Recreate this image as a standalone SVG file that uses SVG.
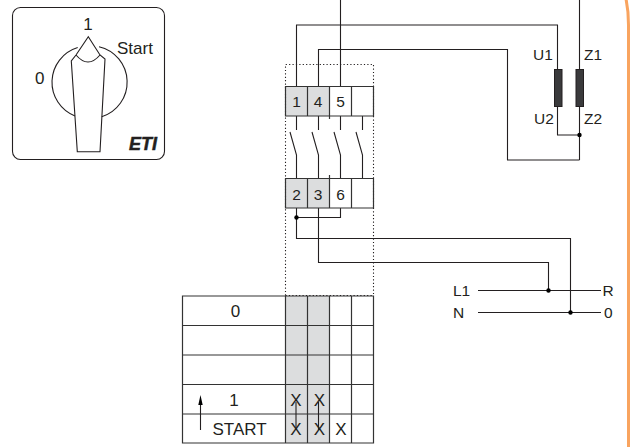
<svg xmlns="http://www.w3.org/2000/svg" width="631" height="447" viewBox="0 0 631 447">
<style>
text{font-family:"Liberation Sans",Arial,sans-serif;fill:#231f20;font-size:15.500px}
.m{text-anchor:middle}
.l{font-size:17px}
.w,.s{fill:none;stroke:#231f20;stroke-width:1.100}
.t{fill:none;stroke:#333;stroke-width:1.200}
.d{fill:none;stroke:#231f20;stroke-width:1.100;stroke-dasharray:1.200 2.200}
.b{fill:#dcddde}
.dot{fill:#000}
</style>
<rect width="631" height="447" fill="#fff"/>
<path d="M626 -1C627.500 6 628.500 14 628.500 25V447" fill="none" stroke="#f9a45f" stroke-width="3"/>
<g id="selector">
<rect x="12.500" y="7.500" width="152" height="152" rx="8" fill="#fff" stroke="#231f20" stroke-width="1.100"/>
<path class="s" d="M75 116A36.300 36.300 0 0 1 77.700 47.500M99 46.700A36.300 36.300 0 0 1 101.700 116.700"/>
<path class="s" d="M77.300 151.700L71.300 61L76 55L88.300 36.700L100 55L105 59L100 151.700Z"/>
<path class="s" d="M76 55Q88 69 100 55"/>
<text class="m l" x="88" y="30">1</text>
<text class="l" x="117" y="54">Start</text>
<text class="l" x="35" y="84">0</text>
<text x="129" y="150" style="font-size:18px;font-weight:bold;font-style:italic;stroke:#231f20;stroke-width:.5">ETI</text>
</g>
<g id="connectors">
<path class="w" d="M296.500 86V25H557.500V69M318.500 86V49.500H507.500V160H579.500M340.500 0V86M579.500 0V69M557.500 107V135H579.500M579.500 107V160"/>
<path class="w" d="M296.500 116V130M318.500 116V130M340.500 116V130M362.500 116V130"/>
<path class="w" d="M290 132L296.500 155V178M312 132L318.500 155V178M334 132L340.500 155V178M356 132L362.500 155V178"/>
<path class="w" d="M296.500 208V238.500H570.500V312M318.500 208V262.500H548.500V290M296.500 217.500H340.500V208"/>
<path class="w" d="M478 290.500H601M478 312.500H601"/>
<circle class="dot" cx="579.500" cy="135" r="2.200"/>
<circle class="dot" cx="296.500" cy="217.500" r="2.200"/>
<circle class="dot" cx="548.500" cy="290.500" r="2.200"/>
<circle class="dot" cx="570.500" cy="312.500" r="2.200"/>
</g>
<g id="coil-u"><rect x="554.500" y="69.500" width="7.500" height="37" fill="#3a3a3c" stroke="#231f20"/><text x="533" y="60">U1</text><text x="534" y="124">U2</text></g>
<g id="coil-z"><rect x="576" y="69.500" width="7.500" height="37" fill="#3a3a3c" stroke="#231f20"/><text x="584" y="60">Z1</text><text x="584" y="124">Z2</text></g>
<g id="contact-block">
<rect class="b" x="285.500" y="86.500" width="44" height="29.500"/>
<rect class="b" x="285.500" y="178.500" width="44" height="29.500"/>
<path class="d" d="M285.500 295.500V64.500H373.500V295.500"/>
<path class="t" d="M285.500 86.500H373.500V116H285.500ZM307.500 86.500V116M329.500 86.500V119M351.500 86.500V116"/>
<path class="t" d="M285.500 178.500H373.500V208H285.500ZM307.500 178.500V208M329.500 175V208M351.500 178.500V208"/>
<text class="m" x="296.500" y="107">1</text><text class="m" x="318" y="107">4</text><text class="m" x="340.500" y="107">5</text>
<text class="m" x="296.500" y="200">2</text><text class="m" x="318" y="200">3</text><text class="m" x="340.500" y="200">6</text>
</g>
<g id="switch-table">
<rect class="b" x="285.500" y="296" width="44" height="147"/>
<path class="t" d="M182.500 296H373.500V443H182.500ZM182.500 325.500H373.500M182.500 355H373.500M182.500 384.500H373.500M182.500 414H373.500M285.500 296V443M307.500 296V443M329.500 296V443M351.500 296V443"/>
<path class="d" d="M285.500 295.500H373.500"/>
<text class="m l" x="235.500" y="317">0</text>
<text class="m l" x="234" y="406">1</text>
<text class="m l" x="239.500" y="435">START</text>
<path class="w" d="M200.500 430V400"/><path class="dot" d="M200.500 395L198.300 405H202.700Z"/>
<text class="m l" x="296" y="406">X</text><text class="m l" x="319.500" y="406">X</text>
<text class="m l" x="296" y="435">X</text><text class="m l" x="319.500" y="435">X</text><text class="m l" x="341" y="435">X</text>
<path class="w" d="M296 402V430M318.500 402V430"/>
</g>
<g id="supply"><text x="453" y="296">L1</text><text x="453" y="318">N</text><text x="602.500" y="296">R</text><text x="604" y="318">0</text></g>
</svg>
